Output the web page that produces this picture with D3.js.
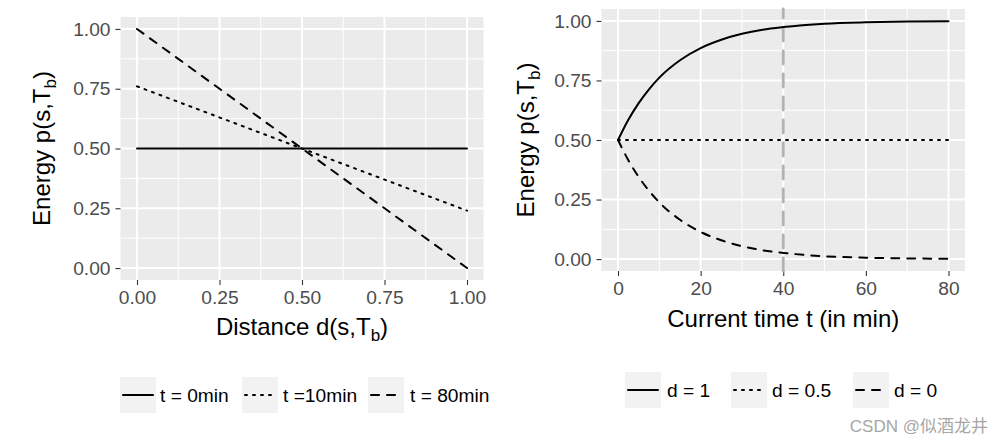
<!DOCTYPE html>
<html>
<head>
<meta charset="utf-8">
<script src="https://cdn.jsdelivr.net/npm/d3@7"></script>
<style>
  html, body { margin: 0; padding: 0; background: #ffffff; }
  svg { display: block; font-family: "Liberation Sans", Arial, sans-serif; }
</style>
</head>
<body>
<svg id="chart" width="1004" height="438"></svg>
<script>
// ---- data ----
const distD = [0, 1];
const energyT0 = [0.5, 0.5];
const energyT10 = [0.76, 0.24];
const energyT80 = [1.0, 0.0];

const timeT = [0, 2.5, 5, 7.5, 10, 15, 20, 25, 30, 35, 40, 50, 60, 70, 80];
const energyD1 = [0.5, 0.585, 0.655, 0.713, 0.762, 0.835, 0.886, 0.921, 0.946, 0.963, 0.974, 0.988, 0.994, 0.997, 0.999];
const energyD05 = [0.5, 0.5, 0.5, 0.5, 0.5, 0.5, 0.5, 0.5, 0.5, 0.5, 0.5, 0.5, 0.5, 0.5, 0.5];
const energyD0 = [0.5, 0.415, 0.345, 0.287, 0.238, 0.165, 0.114, 0.079, 0.054, 0.037, 0.026, 0.012, 0.006, 0.003, 0.001];

const yTicks = [0, 0.25, 0.5, 0.75, 1];
const yMinor = [0.125, 0.375, 0.625, 0.875];
const xTicksLeft = [0, 0.25, 0.5, 0.75, 1];
const xMinorLeft = [0.125, 0.375, 0.625, 0.875];
const xTicksRight = [0, 20, 40, 60, 80];
const xMinorRight = [10, 30, 50, 70];
const refTime = [40];

const leftLabels = ["t = 0min", "t =10min", "t = 80min"];
const rightLabels = ["d = 1", "d = 0.5", "d = 0"];

// ---- styles ----
const LW = 2;
const dashStyles = {
  solid: null,
  dotted: (LW * 1) + " " + (LW * 3),
  dashed: (LW * 4) + " " + (LW * 4)
};
const styleOrder = ["solid", "dotted", "dashed"];

const svg = d3.select("#chart");

function panel(opts) {
  const g = svg.append("g");
  const x = d3.scaleLinear().domain(opts.xDomain).range(opts.xRange);
  const y = d3.scaleLinear().domain([-0.05, 1.05]).range(opts.yRange);

  g.append("rect")
    .attr("x", opts.xRange[0]).attr("y", opts.yRange[1])
    .attr("width", opts.xRange[1] - opts.xRange[0])
    .attr("height", opts.yRange[0] - opts.yRange[1])
    .attr("fill", "#ebebeb");

  // minor grid
  g.selectAll(".ymin").data(yMinor).enter().append("line")
    .attr("x1", opts.xRange[0]).attr("x2", opts.xRange[1])
    .attr("y1", d => y(d)).attr("y2", d => y(d))
    .attr("stroke", "#ffffff").attr("stroke-width", 1);
  g.selectAll(".xmin").data(opts.xMinor).enter().append("line")
    .attr("y1", opts.yRange[0]).attr("y2", opts.yRange[1])
    .attr("x1", d => x(d)).attr("x2", d => x(d))
    .attr("stroke", "#ffffff").attr("stroke-width", 1);
  // major grid
  g.selectAll(".ymaj").data(yTicks).enter().append("line")
    .attr("x1", opts.xRange[0]).attr("x2", opts.xRange[1])
    .attr("y1", d => y(d)).attr("y2", d => y(d))
    .attr("stroke", "#ffffff").attr("stroke-width", 2);
  g.selectAll(".xmaj").data(opts.xTicks).enter().append("line")
    .attr("y1", opts.yRange[0]).attr("y2", opts.yRange[1])
    .attr("x1", d => x(d)).attr("x2", d => x(d))
    .attr("stroke", "#ffffff").attr("stroke-width", 2);

  // axes
  const yAxis = d3.axisLeft(y).tickValues(yTicks).tickFormat(d3.format(".2f"))
    .tickSize(5).tickPadding(5);
  const ya = g.append("g").attr("transform", `translate(${opts.xRange[0]},0)`).call(yAxis);
  const xAxis = d3.axisBottom(x).tickValues(opts.xTicks).tickFormat(opts.xFormat)
    .tickSize(5).tickPadding(5);
  const xa = g.append("g").attr("transform", `translate(0,${opts.yRange[0]})`).call(xAxis);
  [ya, xa].forEach(a => {
    a.select(".domain").remove();
    a.selectAll(".tick line").attr("stroke", "#333333").attr("stroke-width", 1.1);
    a.selectAll(".tick text").attr("fill", "#4d4d4d")
      .style("font-size", "19.2px").style("font-family", "'Liberation Sans', Arial, sans-serif");
  });

  // titles
  const yt = g.append("text")
    .attr("transform", `translate(${opts.yTitleX},${(opts.yRange[0] + opts.yRange[1]) / 2}) rotate(-90)`)
    .attr("text-anchor", "middle").attr("fill", "#000").style("font-size", "24px");
  yt.append("tspan").text("Energy p(s,T");
  yt.append("tspan").text("b").style("font-size", "17px").attr("dy", "6");
  yt.append("tspan").text(")").attr("dy", "-6");

  const xt = g.append("text")
    .attr("x", (opts.xRange[0] + opts.xRange[1]) / 2).attr("y", opts.xTitleY)
    .attr("text-anchor", "middle").attr("fill", "#000").style("font-size", "24px");
  opts.xTitle(xt);

  return { g, x, y };
}

// ---- left panel ----
const L = panel({
  xDomain: [-0.05, 1.05], xRange: [120.5, 483.5], yRange: [280, 17],
  xTicks: xTicksLeft, xMinor: xMinorLeft, xFormat: d3.format(".2f"),
  yTitleX: 50, xTitleY: 335,
  xTitle: t => {
    t.append("tspan").text("Distance d(s,T");
    t.append("tspan").text("b").style("font-size", "17px").attr("dy", "6");
    t.append("tspan").text(")").attr("dy", "-6");
  }
});

const leftSeries = [energyT0, energyT10, energyT80];
const lineL = d3.line().x((d, i) => L.x(distD[i])).y(d => L.y(d));
leftSeries.forEach((s, k) => {
  L.g.append("path").attr("d", lineL(s))
    .attr("fill", "none").attr("stroke", "#000").attr("stroke-width", LW)
    .attr("stroke-linecap", "round")
    .attr("stroke-dasharray", dashStyles[styleOrder[k]]);
});

// ---- right panel ----
const R = panel({
  xDomain: [-4, 84], xRange: [601.5, 965], yRange: [271, 9],
  xTicks: xTicksRight, xMinor: xMinorRight, xFormat: d3.format("d"),
  yTitleX: 534, xTitleY: 327,
  xTitle: t => { t.text("Current time t (in min)"); }
});

// reference vertical line
R.g.selectAll(".vref").data(refTime).enter().append("line")
  .attr("x1", d => R.x(d)).attr("x2", d => R.x(d))
  .attr("y1", 271).attr("y2", 9)
  .attr("stroke", "#b2b2b2").attr("stroke-width", 2.8)
  .attr("stroke-linecap", "round").attr("stroke-dasharray", "13 10");

const rightSeries = [energyD1, energyD05, energyD0];
const lineR = d3.line().x((d, i) => R.x(timeT[i])).y(d => R.y(d)).curve(d3.curveMonotoneX);
rightSeries.forEach((s, k) => {
  R.g.append("path").attr("d", lineR(s))
    .attr("fill", "none").attr("stroke", "#000").attr("stroke-width", LW)
    .attr("stroke-linecap", "round")
    .attr("stroke-dasharray", dashStyles[styleOrder[k]]);
});

// ---- legends ----
function legend(labels, boxXs, textXs, cy) {
  const g = svg.append("g");
  labels.forEach((lab, k) => {
    g.append("rect").attr("x", boxXs[k]).attr("y", cy - 18).attr("width", 36).attr("height", 36)
      .attr("fill", "#f2f2f2");
    g.append("line").attr("x1", boxXs[k] + 3).attr("x2", boxXs[k] + 33)
      .attr("y1", cy).attr("y2", cy)
      .attr("stroke", "#000").attr("stroke-width", LW)
      .attr("stroke-linecap", "round")
      .attr("stroke-dasharray", dashStyles[styleOrder[k]]);
    g.append("text").attr("x", textXs[k]).attr("y", cy).attr("dy", "0.35em")
      .attr("fill", "#000").style("font-size", "19.2px").text(lab);
  });
}
legend(leftLabels, [120, 242, 368], [160, 283, 410], 395);
legend(rightLabels, [625, 731, 853], [667, 772, 894], 390);

// watermark
svg.append("text").attr("x", 988).attr("y", 432).attr("text-anchor", "end")
  .attr("fill", "#a6a6a6").style("font-size", "17px")
  .style("font-family", "'Liberation Sans', 'Noto Sans CJK SC', sans-serif")
  .text("CSDN @似酒龙井");
</script>
</body>
</html>
